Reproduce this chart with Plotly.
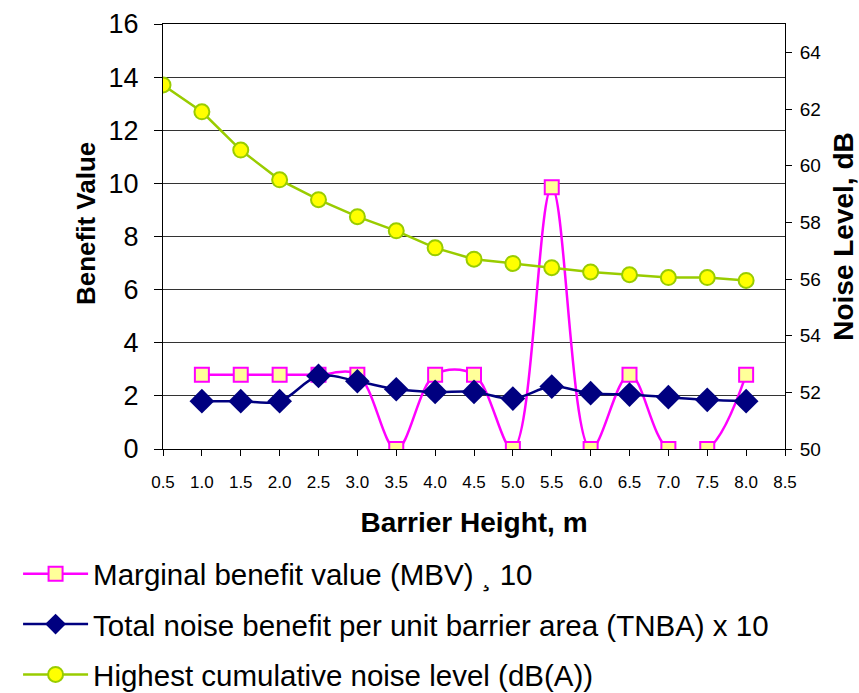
import plotly.graph_objects as go

# Barrier height (m)
height = [0.5, 1.0, 1.5, 2.0, 2.5, 3.0, 3.5, 4.0, 4.5, 5.0, 5.5, 6.0, 6.5, 7.0, 7.5, 8.0]
mbv_x = height[1:]
tnba_x = height[1:]

# Marginal benefit value (x10)
mbv = [2.8, 2.8, 2.8, 2.8, 2.8, 0.0, 2.8, 2.8, 0.0, 9.85, 0.0, 2.8, 0.0, 0.0, 2.8]
# Total noise benefit per unit barrier area (x10)
tnba = [1.8, 1.8, 1.8, 2.75, 2.55, 2.25, 2.15, 2.15, 1.9, 2.35, 2.1, 2.05, 1.95, 1.85, 1.8]
# Highest cumulative noise level, dB(A)
noise = [62.85, 61.9, 60.55, 59.5, 58.8, 58.2, 57.7, 57.1, 56.7, 56.55, 56.4, 56.25,
         56.15, 56.05, 56.05, 55.95]

x_ticks = [0.5 + 0.5 * i for i in range(17)]
left_ticks = list(range(0, 17, 2))
right_ticks = list(range(50, 65, 2))

FONT = "Liberation Sans, Arial, sans-serif"

fig = go.Figure()

fig.add_trace(go.Scatter(
    x=mbv_x, y=mbv, mode="lines+markers",
    name="Marginal benefit value (MBV) \u00b8 10",
    legendgroup="a",
    line=dict(color="#FF00FF", width=2.5, shape="spline", smoothing=1.0),
    marker=dict(symbol="square", size=14, color="#FFFF99",
                line=dict(color="#FF00FF", width=2)),
))

fig.add_trace(go.Scatter(
    x=tnba_x, y=tnba, mode="lines+markers",
    name="Total noise benefit per unit barrier area (TNBA) x 10",
    legendgroup="b",
    line=dict(color="#000080", width=2.5, shape="spline", smoothing=1.0),
    marker=dict(symbol="diamond", size=19, color="#000080",
                line=dict(color="#000080", width=0)),
))

fig.add_trace(go.Scatter(
    x=height, y=noise, mode="lines+markers", yaxis="y2",
    name="Highest cumulative noise level (dB(A))",
    legendgroup="c",
    line=dict(color="#99CC00", width=2.5),
    marker=dict(symbol="circle", size=15, color="#FFFF00",
                line=dict(color="#99CC00", width=2)),
))

fig.update_layout(
    width=859, height=693,
    margin=dict(l=163, r=74, t=24, b=244, autoexpand=False),
    paper_bgcolor="white", plot_bgcolor="white",
    font=dict(family=FONT, color="black"),
    showlegend=True,
    legend=dict(
        orientation="v", x=-0.233, y=-0.233, xanchor="left", yanchor="top",
        font=dict(size=29.5, family=FONT, color="black"),
        tracegroupgap=9, itemwidth=65, bgcolor="rgba(0,0,0,0)",
    ),
    xaxis=dict(
        range=[0.5, 8.5], tickvals=x_ticks, ticktext=[f"{v:.1f}" for v in x_ticks],
        showgrid=False, zeroline=False, showline=True, linecolor="black", linewidth=1,
        mirror=True, ticks="outside", ticklen=6, tickcolor="black",
        tickfont=dict(size=17, family=FONT), ticklabelstandoff=12,
        title=dict(text="<b>Barrier Height, m</b>", font=dict(size=28, family=FONT),
                   standoff=20),
    ),
    yaxis=dict(
        range=[0, 16], tickvals=left_ticks,
        showgrid=True, gridcolor="#333333", gridwidth=1, zeroline=False,
        showline=True, linecolor="black", linewidth=1,
        ticks="outside", ticklen=8, tickcolor="black",
        tickfont=dict(size=27, family=FONT), ticklabelstandoff=10,
    ),
    yaxis2=dict(
        range=[50, 65], tickvals=right_ticks, overlaying="y", side="right",
        showgrid=False, zeroline=False, showline=True, linecolor="black", linewidth=1,
        ticks="outside", ticklen=6, tickcolor="black",
        tickfont=dict(size=19, family=FONT), ticklabelstandoff=4,
        title=dict(text="<b>Noise Level, dB</b>", font=dict(size=28, family=FONT),
                   standoff=18),
    ),
    annotations=[dict(
        text="<b>Benefit Value</b>", xref="paper", yref="paper",
        x=-0.125, y=0.53, xanchor="center", yanchor="middle",
        textangle=-90, showarrow=False, font=dict(size=26, family=FONT, color="black"),
    )],
)

fig.write_html("out.html")
